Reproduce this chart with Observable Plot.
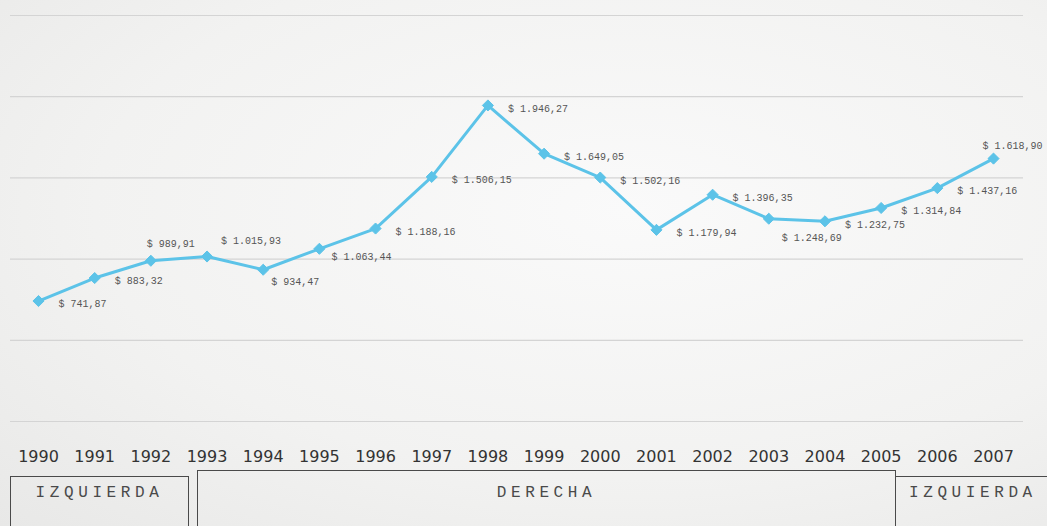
<!DOCTYPE html>
<html>
<head>
<meta charset="utf-8">
<script src="https://cdn.jsdelivr.net/npm/d3@7"></script>
<script src="https://cdn.jsdelivr.net/npm/@observablehq/plot@0.6"></script>
<style>
  html, body { margin: 0; padding: 0; background: #f1f1f0; overflow: hidden; }
  #wrap { position: relative; width: 1047px; height: 526px;
    background: radial-gradient(ellipse at 60% 40%, #fafafa 0%, #f2f2f1 60%, #e8e8e7 100%); }
  #chart { position: absolute; left: 0; top: 0; }
  .box { position: absolute; box-sizing: border-box; border: 1.5px solid #4a4a4a; border-bottom: none;
    font-family: "Liberation Mono", "DejaVu Sans Mono", monospace; font-size: 16px; letter-spacing: 4.6px;
    color: #4a4a4a; text-align: center; }
</style>
</head>
<body>
<div id="wrap">
  <div id="chart"></div>
  <div class="box" id="b1" style="left:10px; top:476px; width:179px; height:60px; padding-top:7px;"></div>
  <div class="box" id="b2" style="left:197px; top:470px; width:699px; height:66px; padding-top:13px;"></div>
  <div class="box" id="b3" style="left:896px; top:476px; width:160px; height:60px; padding-top:7px; border-left:none; text-align:left; padding-left:13px;"></div>
</div>
<script>
const years = [1990,1991,1992,1993,1994,1995,1996,1997,1998,1999,2000,2001,2002,2003,2004,2005,2006,2007];
const values = [741.87,883.32,989.91,1015.93,934.47,1063.44,1188.16,1506.15,1946.27,1649.05,1502.16,1179.94,1396.35,1248.69,1232.75,1314.84,1437.16,1618.90];
const yTicks = [0,500,1000,1500,2000,2500];
const periods = ["IZQUIERDA","DERECHA","IZQUIERDA"];

document.getElementById("b1").textContent = periods[0];
document.getElementById("b2").textContent = periods[1];
document.getElementById("b3").textContent = periods[2];

const data = years.map((y, i) => ({year: y, value: values[i]}));
const loc = d3.formatLocale({decimal: ",", thousands: ".", grouping: [3], currency: ["$ ", ""]});
const fmt = loc.format("$,.2f");

const lineColor = "#5cc3e8";
const labelStyle = {
  fontFamily: "'Liberation Mono', 'DejaVu Sans Mono', monospace",
  fontSize: 10, fill: "#555", textAnchor: "start"
};
const placements = [
  {years: [1992], dx: 20, dy: -17, anchor: "middle"},
  {years: [1993], dx: 14, dy: -16},
  {years: [1994], dx: 8, dy: 12},
  {years: [1995], dx: 12, dy: 8},
  {years: [2003], dx: 13, dy: 19},
  {years: [2007], dx: -11, dy: -13}
];
const special = new Set(placements.flatMap(p => p.years));

const labelMarks = [
  Plot.text(data.filter(d => !special.has(d.year)), {
    x: "year", y: "value", text: d => fmt(d.value), dx: 20, dy: 3, ...labelStyle
  }),
  ...placements.map(p => Plot.text(data.filter(d => p.years.includes(d.year)), {
    x: "year", y: "value", text: d => fmt(d.value),
    ...labelStyle,
    dx: p.dx, dy: p.dy,
    textAnchor: p.anchor || "start"
  }))
];

const chart = Plot.plot({
  width: 1047,
  height: 470,
  marginLeft: 38,
  marginRight: 54,
  marginTop: 15,
  marginBottom: 49,
  style: {background: "transparent", overflow: "visible"},
  x: {domain: [1990, 2007], axis: null},
  y: {domain: [0, 2500], axis: null},
  marks: [
    Plot.ruleY(yTicks, {stroke: "#d4d4d4", strokeWidth: 1.2, insetLeft: -28, insetRight: -30}),
    Plot.axisX(years, {
      tickSize: 0, tickPadding: 29, tickFormat: d => String(d),
      fontSize: 16, fontFamily: "'DejaVu Sans', sans-serif",
      fill: "#333", label: null
    }),
    Plot.line(data, {x: "year", y: "value", stroke: lineColor, strokeWidth: 3}),
    Plot.dot(data, {x: "year", y: "value", symbol: "diamond2", r: 5, fill: lineColor, stroke: lineColor, strokeWidth: 1}),
    ...labelMarks
  ]
});
document.getElementById("chart").appendChild(chart);
</script>
</body>
</html>
